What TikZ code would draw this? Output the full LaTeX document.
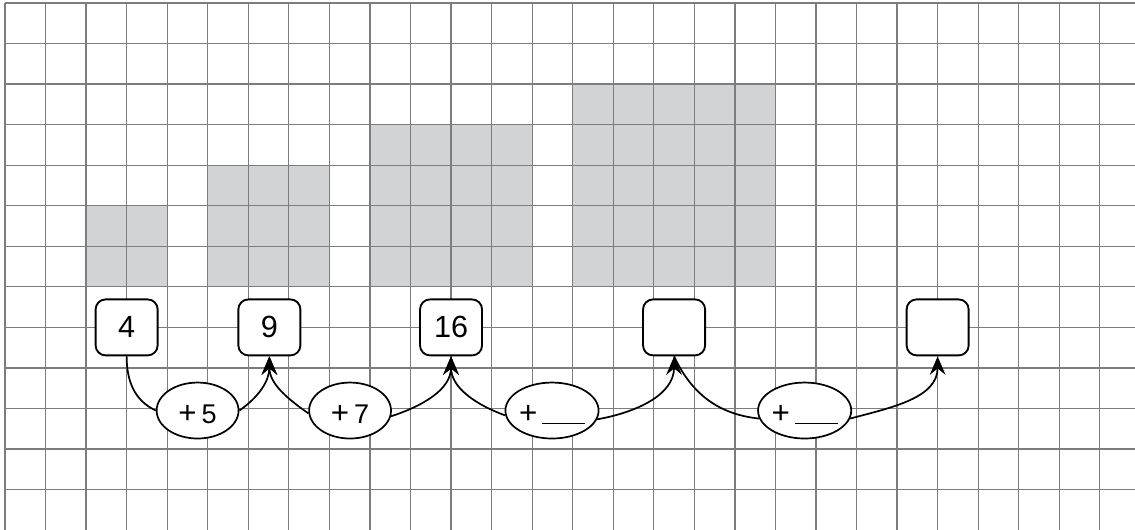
\documentclass[tikz,border=0pt]{standalone}
\usepackage{fontspec}
\setmainfont{Liberation Sans}
\usetikzlibrary{arrows.meta,shapes.geometric}
\definecolor{sqfill}{RGB}{209,211,212}
\definecolor{gridc}{RGB}{125,125,125}
\newcommand{\bigplus}{{\fontsize{22}{24}\selectfont +}}
\begin{document}
\begin{tikzpicture}[
  numbox/.style={draw, line width=1.3pt, rounded corners=7pt, minimum width=1.53cm,
    minimum height=1.38cm, inner sep=0pt, fill=white, font=\fontsize{21.5}{24}\selectfont},
  opell/.style={draw, ellipse, line width=1.2pt, minimum width=2.02cm, minimum height=1.38cm,
    inner sep=0pt, fill=white, text height=18pt, text depth=0pt, font=\fontsize{19}{22}\selectfont},
  conn/.style={line width=1.2pt},
  arr/.style={conn, -{Stealth[length=13pt,width=11pt,inset=4.5pt]}}
]
\useasboundingbox (-0.123,0.028) rectangle (27.867,13.074);
% shaded squares
\fill[sqfill] (2,8) rectangle (4,6);
\fill[sqfill] (5,9) rectangle (8,6);
\fill[sqfill] (9,10) rectangle (13,6);
\fill[sqfill] (14,11) rectangle (19,6);
% grid
\draw[gridc, line width=0.9pt] (0,0) grid (28,13);
% number boxes
\node[numbox] (b1) at (3,5) {4};
\node[numbox] (b2) at (6.52,5) {9};
\node[numbox] (b3) at (11,5) {16};
\node[numbox] (b4) at (16.5,5) {};
\node[numbox] (b5) at (23,5) {};
% operation ellipses
\node[opell] (e1) at (4.75,2.95) {\bigplus\hspace{3.5pt}5};
\node[opell] (e2) at (8.51,2.95) {\bigplus\hspace{3.5pt}7};
\node[opell] (e3) at (13.49,2.95) {\bigplus\hspace{3.5pt}\rule[-0.5pt]{1.05cm}{0.9pt}\hspace{7pt}};
\node[opell] (e4) at (19.72,2.95) {\bigplus\hspace{3.5pt}\rule[-0.5pt]{1.05cm}{0.9pt}\hspace{7pt}};
% connectors
\draw[conn] (b1.south) to[out=-90,in=155] (e1.west);
\draw[arr] (e1.east) to[out=35,in=-90] (b2.south);
\draw[arr] (e2.184) to[out=145,in=-90] (b2.south);
\draw[arr] (e2.-8) to[out=18,in=-90] (b3.south);
\draw[arr] (e3.186) to[out=160,in=-90] (b3.south);
\draw[arr] (e3.-11) to[out=10,in=-90] (b4.south);
\draw[conn] (b4.south) to[out=-65,in=174] (e4.190);
\draw[arr] (e4.-10) to[out=15,in=-90] (b5.south);
\end{tikzpicture}
\end{document}
